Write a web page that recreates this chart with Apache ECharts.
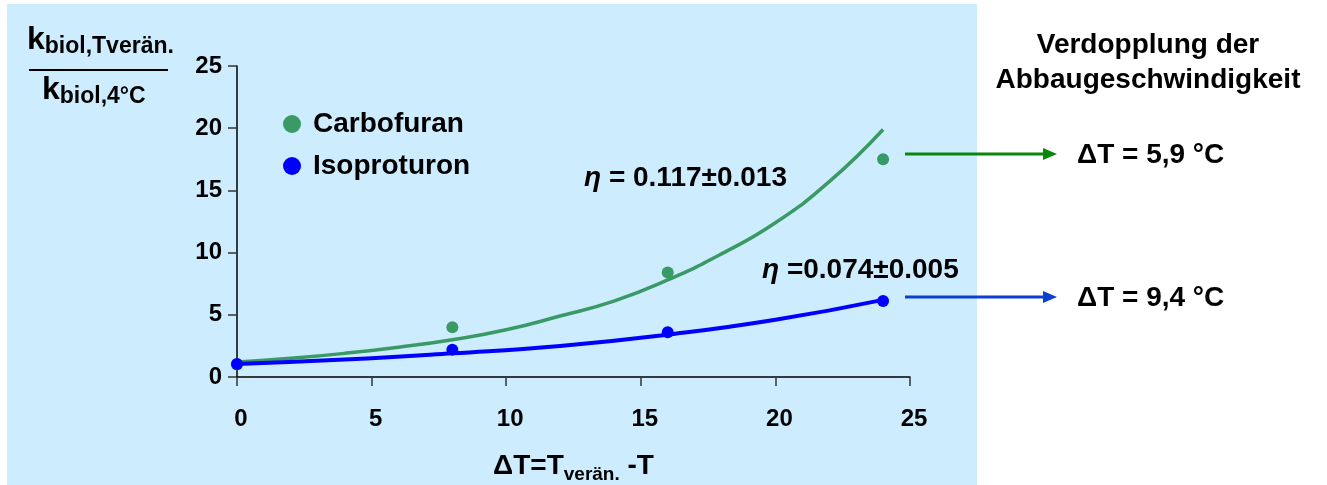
<!DOCTYPE html>
<html><head><meta charset="utf-8">
<script src="https://cdn.jsdelivr.net/npm/echarts@6/dist/echarts.min.js"></script>
<style>html,body{margin:0;padding:0;background:#fff}#c{width:1327px;height:485px}</style>
</head><body><div id="c"></div>
<script>
// Measured points
const carboX = [0, 8, 16, 24];
const carboY = [1.0, 4.0, 8.4, 17.5];
const isoX = [0, 8, 16, 24];
const isoY = [1.05, 2.2, 3.6, 6.1];
// Fitted curves
const carboCurveX = [0, 2, 4, 6, 8, 10, 12, 14, 16, 18, 20, 22, 24];
const carboCurveY = [1.2, 1.5, 1.9, 2.4, 3.0, 3.8, 4.9, 6.1, 7.8, 9.9, 12.4, 15.7, 19.9];
const isoCurveX = [0, 4, 8, 12, 16, 20, 24];
const isoCurveY = [1.05, 1.4, 1.9, 2.5, 3.4, 4.6, 6.2];
const xTicks = [0, 5, 10, 15, 20, 25];
const yTicks = [0, 5, 10, 15, 20, 25];
const seriesNames = ['Carbofuran', 'Isoproturon'];
const etaLabels = ['\u03b7', ' = 0.117\u00b10.013', ' =0.074\u00b10.005'];
const rightTitle = ['Verdopplung der', 'Abbaugeschwindigkeit'];
const doublingLabels = ['\u0394T = 5,9 \u00b0C', '\u0394T = 9,4 \u00b0C'];

const F = '"Liberation Sans", Arial, sans-serif';
const GREEN = '#3a9a66', BLUE = '#0000ff';
const zip = (a, b) => a.map((v, i) => [v, b[i]]);

const chart = echarts.init(document.getElementById('c'), null, {renderer: 'canvas'});
chart.setOption({
  backgroundColor: '#ffffff',
  animation: false,
  textStyle: {fontFamily: F},
  grid: {left: 237, right: 417, top: 66, bottom: 108, containLabel: false, outerBoundsMode: 'none'},
  legend: {
    data: seriesNames, orient: 'vertical', left: 278, top: 105, itemGap: 14,
    icon: 'circle', itemWidth: 18, itemHeight: 18,
    itemStyle: {opacity: 1},
    textStyle: {fontFamily: F, fontWeight: 'bold', fontSize: 28, color: '#000', padding: [0, 0, 0, 7]}
  },
  xAxis: {
    type: 'value', min: 0, max: 25, interval: 5,
    axisLine: {lineStyle: {color: '#000', width: 1.5}},
    axisTick: {show: true, length: 9, lineStyle: {color: '#333', width: 1.5}},
    axisLabel: {fontFamily: F, fontWeight: 'bold', fontSize: 24, color: '#000', margin: 30, padding: [0, 0, 0, 8],
      formatter: v => xTicks.includes(v) ? String(v) : ''},
    splitLine: {show: false},
    name: '{a|\u0394T=T}{s|ver\u00e4n.}{a| -T}', nameLocation: 'middle', nameGap: 72,
    nameTextStyle: {rich: {
      a: {fontFamily: F, fontWeight: 'bold', fontSize: 28, color: '#000'},
      s: {fontFamily: F, fontWeight: 'bold', fontSize: 19, color: '#000', padding: [16, 0, 0, 0]}
    }}
  },
  yAxis: {
    type: 'value', min: 0, max: 25, interval: 5,
    axisLine: {show: true, lineStyle: {color: '#000', width: 1.5}},
    axisTick: {show: true, length: 9, lineStyle: {color: '#333', width: 1.5}},
    axisLabel: {fontFamily: F, fontWeight: 'bold', fontSize: 24, color: '#000', margin: 15,
      formatter: v => yTicks.includes(v) ? String(v) : ''},
    splitLine: {show: false}
  },
  graphic: [
    {type: 'rect', z: -10, silent: true, shape: {x: 7, y: 4, width: 970, height: 481}, style: {fill: '#cdecfd'}},
    {type: 'text', left: 27, top: 24, style: {text: '{k|k}{s|biol,Tver\u00e4n.}', rich: {
      k: {fontFamily: F, fontWeight: 'bold', fontSize: 32, fill: '#000'},
      s: {fontFamily: F, fontWeight: 'bold', fontSize: 23, fill: '#000', padding: [14, 0, 0, 0]}}}},
    {type: 'line', shape: {x1: 29, y1: 70, x2: 168, y2: 70}, style: {stroke: '#000', lineWidth: 2}},
    {type: 'text', left: 42, top: 74, style: {text: '{k|k}{s|biol,4\u00b0C}', rich: {
      k: {fontFamily: F, fontWeight: 'bold', fontSize: 32, fill: '#000'},
      s: {fontFamily: F, fontWeight: 'bold', fontSize: 23, fill: '#000', padding: [14, 0, 0, 0]}}}},
    {type: 'text', left: 584, top: 164, style: {text: '{e|' + etaLabels[0] + '}{t|' + etaLabels[1] + '}', rich: {
      e: {fontFamily: F, fontWeight: 'bold', fontStyle: 'italic', fontSize: 28, fill: '#000'},
      t: {fontFamily: F, fontWeight: 'bold', fontSize: 28, fill: '#000'}}}},
    {type: 'text', left: 762, top: 256, style: {text: '{e|' + etaLabels[0] + '}{t|' + etaLabels[2] + '}', rich: {
      e: {fontFamily: F, fontWeight: 'bold', fontStyle: 'italic', fontSize: 28, fill: '#000'},
      t: {fontFamily: F, fontWeight: 'bold', fontSize: 28, fill: '#000'}}}},
    {type: 'text', x: 1148, y: 28, style: {text: rightTitle.join('\n'), align: 'center', lineHeight: 35,
      fontFamily: F, fontWeight: 'bold', fontSize: 28, fill: '#000'}},
    {type: 'line', shape: {x1: 905, y1: 154, x2: 1045, y2: 154}, style: {stroke: '#0a860a', lineWidth: 3}},
    {type: 'polygon', shape: {points: [[1043, 148], [1057, 154], [1043, 160]]}, style: {fill: '#0a860a'}},
    {type: 'line', shape: {x1: 905, y1: 297, x2: 1045, y2: 297}, style: {stroke: '#0a3fd0', lineWidth: 3}},
    {type: 'polygon', shape: {points: [[1043, 291], [1057, 297], [1043, 303]]}, style: {fill: '#0a3fd0'}},
    {type: 'text', left: 1077, top: 141, style: {text: doublingLabels[0], fontFamily: F, fontWeight: 'bold', fontSize: 28, fill: '#000'}},
    {type: 'text', left: 1077, top: 284, style: {text: doublingLabels[1], fontFamily: F, fontWeight: 'bold', fontSize: 28, fill: '#000'}}
  ],
  series: [
    {name: 'curveC', type: 'line', smooth: true, showSymbol: false, data: zip(carboCurveX, carboCurveY),
      lineStyle: {color: GREEN, width: 3.5}, z: 2},
    {name: 'curveI', type: 'line', smooth: true, showSymbol: false, data: zip(isoCurveX, isoCurveY),
      lineStyle: {color: BLUE, width: 4}, z: 3},
    {name: seriesNames[0], type: 'scatter', symbolSize: 12, data: zip(carboX, carboY), itemStyle: {color: GREEN, opacity: 1}, z: 4},
    {name: seriesNames[1], type: 'scatter', symbolSize: 12, data: zip(isoX, isoY), itemStyle: {color: BLUE, opacity: 1}, z: 5}
  ]
});
</script></body></html>
